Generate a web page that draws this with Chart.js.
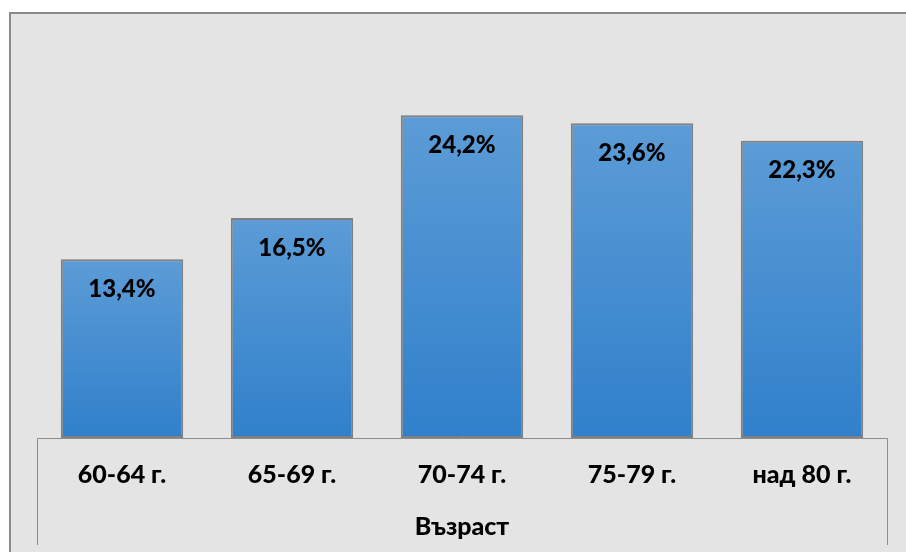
<!DOCTYPE html>
<html>
<head>
<meta charset="utf-8">
<style>
  html, body { margin: 0; padding: 0; background: #ffffff; }
  #wrap { width: 906px; height: 552px; position: relative; }
</style>
<script src="https://cdn.jsdelivr.net/npm/chart.js@4/dist/chart.umd.min.js"></script>
</head>
<body>
<div id="wrap"><canvas id="chart" width="906" height="552"></canvas></div>
<script>
// Age groups and their share (%)
const categories = ['60-64 г.', '65-69 г.', '70-74 г.', '75-79 г.', 'над 80 г.'];
const shares = [13.4, 16.5, 24.2, 23.6, 22.3];
const axisTitle = 'Възраст';

const FONT = 'Lato, "Open Sans", sans-serif';

// Grey panel behind the whole chart with a darker frame on top and left
const panelBackground = {
  id: 'panelBackground',
  beforeDraw(chart) {
    const ctx = chart.ctx;
    ctx.save();
    ctx.fillStyle = '#e4e4e4';
    ctx.fillRect(9, 12, chart.width, chart.height);
    ctx.strokeStyle = '#8a8a8a';
    ctx.lineWidth = 2;
    ctx.beginPath();
    ctx.moveTo(10, chart.height);
    ctx.lineTo(10, 13);
    ctx.lineTo(chart.width, 13);
    ctx.stroke();
    ctx.restore();
  }
};

// Frame around the category axis: baseline plus the two side rules going down
const axisFrame = {
  id: 'axisFrame',
  afterDatasetsDraw(chart) {
    const { ctx, chartArea } = chart;
    const base = chart.scales.y.getPixelForValue(0);
    ctx.save();
    ctx.strokeStyle = '#8c8c8c';
    ctx.lineWidth = 1;
    ctx.beginPath();
    ctx.moveTo(chartArea.left + 0.5, chart.height - 7);
    ctx.lineTo(chartArea.left + 0.5, base + 0.5);
    ctx.lineTo(chartArea.right + 0.5, base + 0.5);
    ctx.lineTo(chartArea.right + 0.5, chart.height - 7);
    ctx.stroke();
    ctx.restore();
  }
};

// Value labels written inside the top of each bar
const valueLabels = {
  id: 'valueLabels',
  afterDatasetsDraw(chart) {
    const ctx = chart.ctx;
    const meta = chart.getDatasetMeta(0);
    ctx.save();
    ctx.fillStyle = '#000000';
    ctx.font = '900 24px ' + FONT;
    ctx.textAlign = 'center';
    ctx.textBaseline = 'middle';
    meta.data.forEach((bar, i) => {
      const v = chart.data.datasets[0].data[i];
      ctx.fillText(v.toFixed(1).replace('.', ',') + '%', bar.x, bar.y + 30);
    });
    ctx.restore();
  }
};

new Chart(document.getElementById('chart'), {
  type: 'bar',
  data: {
    labels: categories,
    datasets: [{
      data: shares,
      backgroundColor(context) {
        const chart = context.chart;
        const yScale = chart.scales.y;
        const fallback = '#4a8fd3';
        if (!chart.chartArea || !yScale || !context.parsed) return fallback;
        const top = yScale.getPixelForValue(context.parsed.y);
        const bottom = yScale.getPixelForValue(0);
        if (!isFinite(top) || !isFinite(bottom)) return fallback;
        const g = chart.ctx.createLinearGradient(0, top, 0, bottom);
        g.addColorStop(0, '#5c9cd6');
        g.addColorStop(1, '#3080cb');
        return g;
      },
      borderColor: '#808080',
      borderWidth: 2,
      borderSkipped: false,
      barPercentage: 0.72,
      categoryPercentage: 1.0
    }]
  },
  options: {
    responsive: false,
    animation: false,
    devicePixelRatio: 1,
    layout: { padding: { left: 37, right: 19, top: 38, bottom: 10 } },
    plugins: {
      legend: { display: false },
      tooltip: { enabled: false }
    },
    scales: {
      x: {
        grid: { display: false, drawTicks: false },
        border: { display: false },
        ticks: {
          color: '#000000',
          font: { family: FONT, size: 25, weight: '900', lineHeight: 1.2 },
          padding: 22
        },
        title: {
          display: true,
          text: axisTitle,
          color: '#000000',
          font: { family: FONT, size: 25, weight: '900', lineHeight: 1.2 },
          padding: { top: 0, bottom: 0 }
        }
      },
      y: {
        display: false,
        min: 0,
        max: 30
      }
    }
  },
  plugins: [panelBackground, axisFrame, valueLabels]
});
</script>
</body>
</html>
